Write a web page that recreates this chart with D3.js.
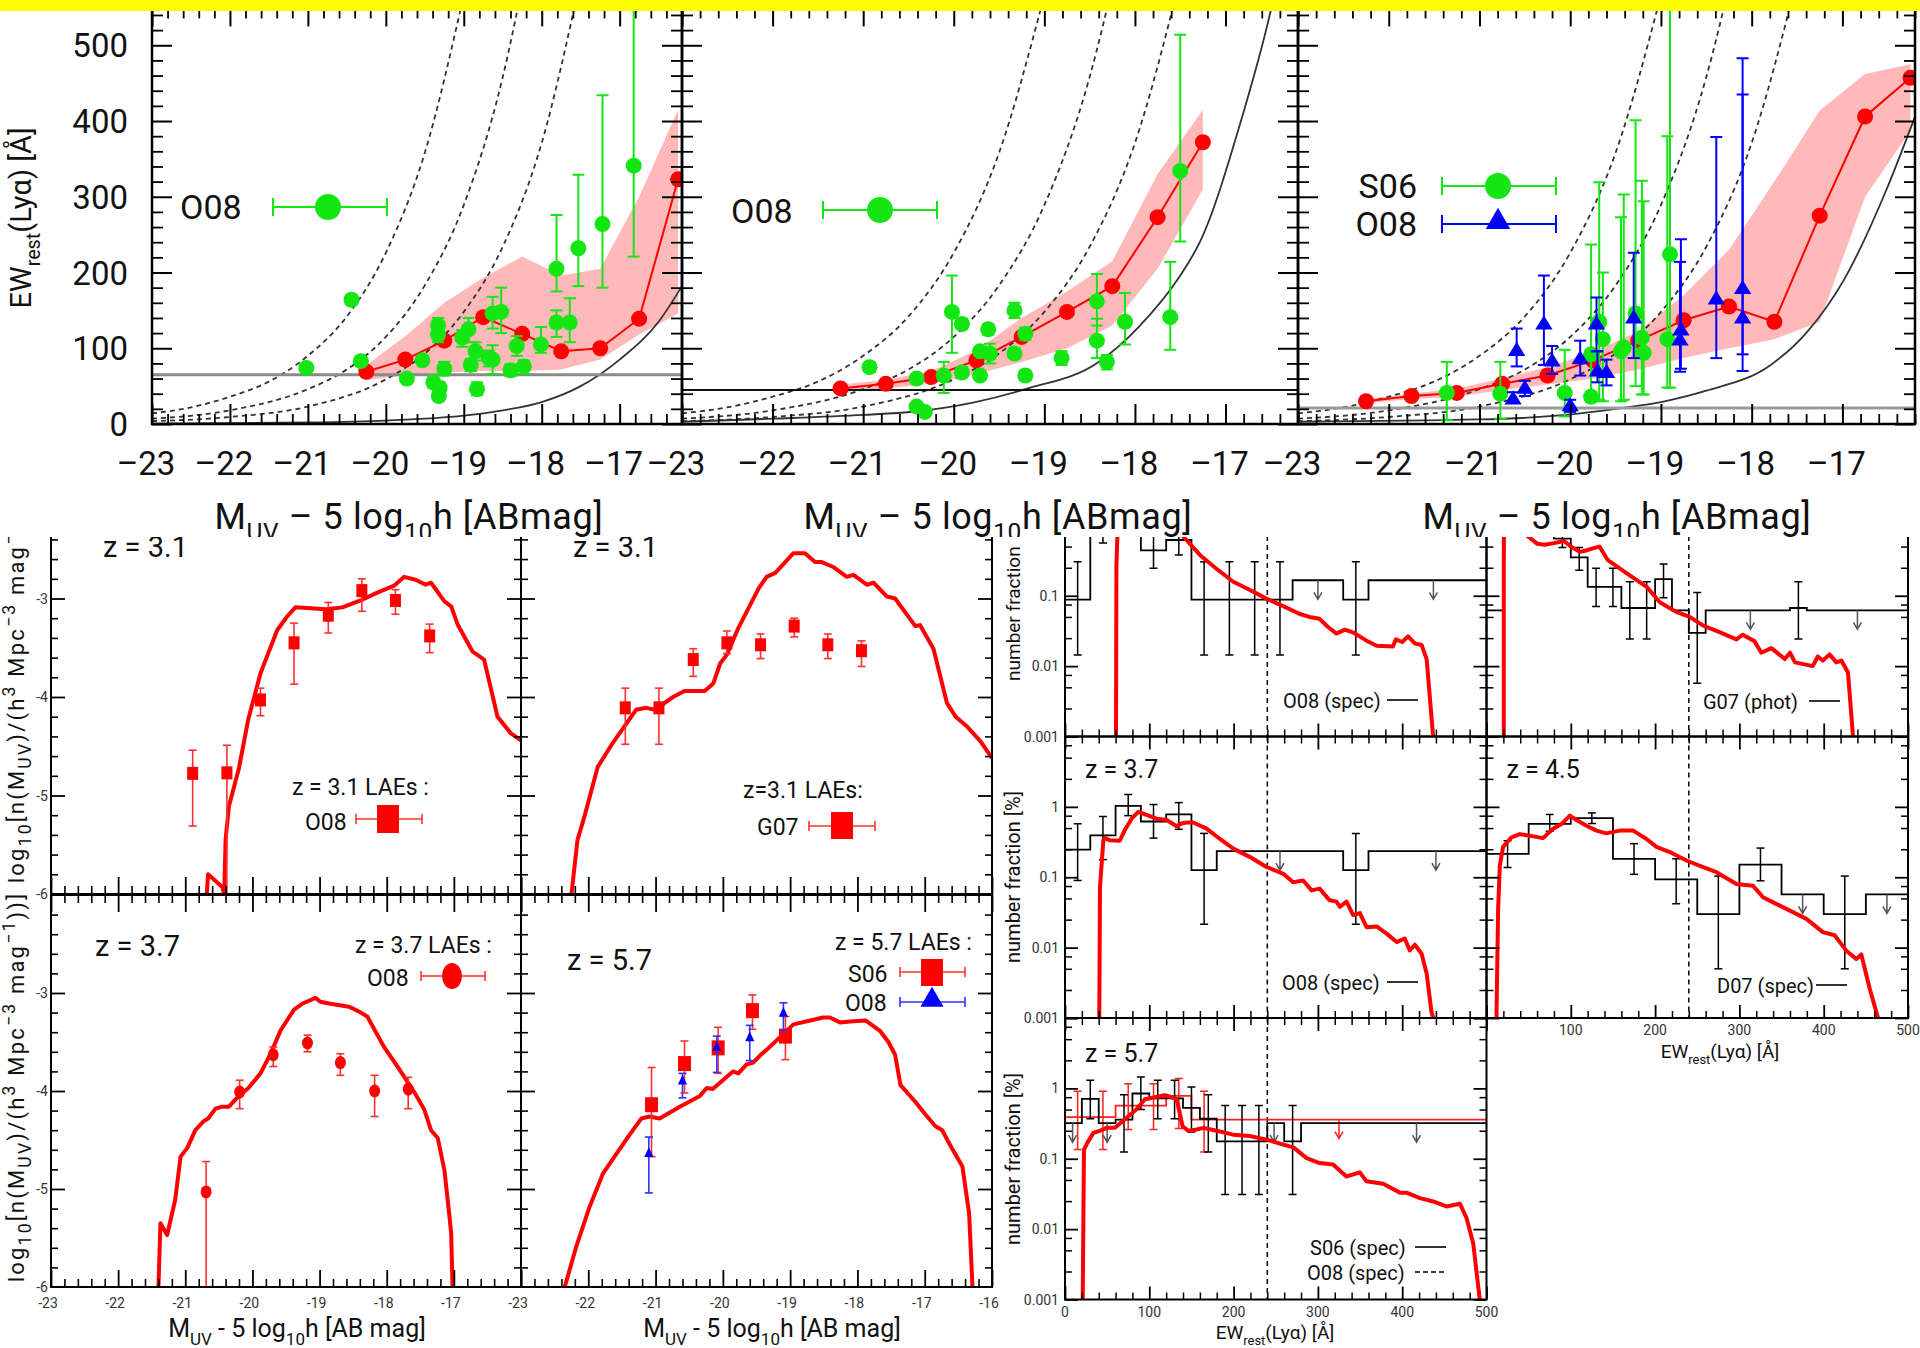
<!DOCTYPE html>
<html>
<head>
<meta charset="utf-8">
<script src="https://cdn.jsdelivr.net/npm/d3@7"></script>
<style>
  body { margin: 0; background: #fff; }
  svg { display: block; }
  text { font-family: Roboto, "Open Sans", sans-serif; fill: #111; }
</style>
</head>
<body>
<svg id="fig" width="1920" height="1348"></svg>
<script>
// ---------------- tick / label values ----------------
const topXLabels = [-23, -22, -21, -20, -19, -18, -17];
const topYLabels = [0, 100, 200, 300, 400, 500];
const lfXLabels = [-23, -22, -21, -20, -19, -18, -17, -16];
const lfYLabels = [-3, -4, -5, -6];
const ewXLabels = [0, 100, 200, 300, 400, 500];
const ewYLabels = [0.001, 0.01, 0.1, 1];

// ---------------- top row: EW_rest vs M_UV ----------------
// dashed selection curves (same in all three panels)
const limA = [[-23, 14], [-22.5, 22], [-22, 36], [-21.5, 56], [-21, 90], [-20.5, 142], [-20, 226], [-19.5, 358], [-19, 566]];
const limB = [[-23, 7], [-22, 18], [-21, 46], [-20.5, 72], [-20, 115], [-19.5, 183], [-19, 289], [-18.5, 458], [-18.2, 604]];
const limC = [[-23, 3.7], [-22, 9.3], [-21, 23], [-20, 59], [-19.5, 93], [-19, 148], [-18.5, 234], [-18, 371], [-17.5, 588]];
const solid1 = [[-23, 0.5], [-21, 2], [-20, 4.5], [-19, 11], [-18.5, 18], [-18, 29], [-17.5, 50], [-17, 85], [-16.5, 135], [-16.2, 182]];
const solid2 = [[-23, 3], [-22, 7], [-21, 12], [-20.43, 16.5], [-19.8, 28], [-19.21, 46], [-18.4, 82], [-17.96, 128], [-17.5, 196], [-17.28, 241], [-16.83, 400], [-16.51, 541], [-16.4, 600]];
const solid3 = [[-23, 3], [-21, 6], [-20.05, 12], [-19.5, 20], [-18.96, 30], [-18.5, 44], [-17.79, 78], [-17.4, 120], [-16.98, 191], [-16.53, 305], [-16.19, 409]];

// model median (red) and spread (pink)
const redM1 = [-20.25, -19.75, -19.25, -18.75, -18.25, -17.75, -17.25, -16.75, -16.25];
const red1 = [69, 85, 110, 141, 119, 96, 100, 139, 323];
const hi1 = [78, 116, 160, 193, 221, 196, 205, 300, 415];
const lo1 = [58, 64, 68, 70, 70, 72, 85, 118, 146];
const redM2 = [-21.25, -20.75, -20.25, -19.75, -19.25, -18.75, -18.25, -17.75, -17.25];
const red2 = [47, 53, 62, 84, 115, 148, 182, 273, 372];
const hi2 = [52, 58, 70, 97, 140, 175, 215, 330, 415];
const lo2 = [42, 47, 53, 66, 82, 100, 130, 205, 310];
const redM3 = [-22.25, -21.75, -21.25, -20.75, -20.25, -19.75, -19.25, -18.75, -18.25, -17.75, -17.25, -16.75, -16.25];
const red3 = [30, 37, 41, 53, 64, 84, 110, 137, 155, 135, 275, 406, 457];
const hi3 = [33, 40, 47, 60, 75, 95, 122, 170, 230, 320, 414, 462, 475];
const lo3 = [27, 33, 36, 45, 52, 60, 72, 87, 100, 112, 135, 300, 387];

// observed LAEs: [M_UV, EW, lo, hi]
const o08z31 = [
  [-21.02, 74, null, null], [-20.44, 164, 158, 170], [-20.32, 83, 78, 88], [-19.73, 60, null, null],
  [-19.53, 84, 80, 90], [-19.33, 130, 118, 140], [-19.33, 118, 108, 128], [-19.39, 55, 48, 62],
  [-19.31, 48, 42, 55], [-19.32, 37, 32, 44], [-19.25, 73, 64, 82], [-19.02, 114, 102, 124],
  [-18.94, 125, 108, 140], [-18.91, 78, 70, 86], [-18.85, 96, 84, 108], [-18.83, 46, 38, 55],
  [-18.68, 87, 76, 97], [-18.63, 146, 126, 168], [-18.52, 148, 120, 180], [-18.63, 85, 66, 104],
  [-18.40, 71, 63, 79], [-18.32, 103, 90, 116], [-18.23, 76, 66, 84], [-18.01, 105, 94, 128],
  [-17.81, 205, 175, 276], [-17.81, 134, 115, 150], [-17.64, 134, 108, 166], [-17.53, 232, 182, 329],
  [-17.22, 264, 180, 434], [-16.82, 341, 221, 600]
];
const o08z37 = [
  [-20.93, 75, 69, 81], [-20.41, 23, null, null], [-20.32, 16, null, null], [-20.41, 60, 54, 66],
  [-20.11, 64, 41, 82], [-20.02, 148, 94, 196], [-19.91, 132, 126, 139], [-19.91, 68, 62, 75],
  [-19.71, 96, null, null], [-19.71, 64, 58, 70], [-19.62, 125, 118, 132], [-19.60, 93, 80, 106],
  [-19.33, 150, 140, 160], [-19.33, 93, 87, 100], [-19.21, 119, 111, 127], [-19.21, 64, 58, 70],
  [-18.81, 87, 78, 96], [-18.42, 162, 130, 198], [-18.42, 110, 87, 139], [-18.31, 82, 72, 91],
  [-18.11, 135, 105, 173], [-17.61, 141, 98, 214], [-17.50, 334, 241, 514]
];
const s06z57 = [
  [-21.36, 41, 5, 82], [-20.77, 40, 7, 82], [-20.06, 41, 10, 98], [-19.77, 36, 30, 42],
  [-19.77, 92, 30, 237], [-19.68, 135, 32, 319], [-19.64, 112, 30, 200], [-19.41, 101, 32, 303],
  [-19.44, 96, 30, 273], [-19.28, 146, 50, 401], [-19.21, 114, 39, 321], [-19.19, 94, 39, 294],
  [-18.90, 224, 48, 600], [-18.93, 112, 48, 380]
];
const o08z57 = [
  [-20.59, 96, 76, 126], [-20.50, 46, 37, 57], [-20.63, 32, 28, 42], [-20.29, 131, 78, 196],
  [-20.20, 82, 66, 103], [-20.00, 23, 16, 32], [-19.89, 85, 64, 110], [-19.71, 131, 96, 167],
  [-19.70, 69, 55, 96], [-19.60, 67, 51, 85], [-19.30, 139, 87, 226], [-18.78, 123, 73, 244],
  [-18.79, 110, 69, 214], [-18.39, 164, 87, 379], [-18.10, 178, 70, 483], [-18.10, 139, 92, 435]
];

// ---------------- UV luminosity functions: [M_UV, log n] ----------------
const lfModel31a = [[-20.68, -6], [-20.66, -5.8], [-20.45, -5.93], [-20.42, -6], [-20.4, -5.45], [-20.35, -5.11], [-20.2, -4.72], [-20.06, -4.22], [-19.88, -3.76], [-19.63, -3.32], [-19.48, -3.18], [-19.36, -3.09], [-19.14, -3.1], [-18.91, -3.11], [-18.66, -3.09], [-18.39, -3.02], [-18.14, -2.94], [-17.89, -2.87], [-17.74, -2.78], [-17.57, -2.81], [-17.42, -2.86], [-17.34, -2.84], [-17.14, -3.03], [-17.04, -3.08], [-16.94, -3.27], [-16.72, -3.54], [-16.55, -3.62], [-16.35, -4.2], [-16.15, -4.37], [-16, -4.44]];
const lfModel31b = [[-22.25, -6], [-22.16, -5.45], [-22.06, -5.22], [-21.86, -4.71], [-21.63, -4.46], [-21.29, -4.13], [-21.14, -4.11], [-21.01, -4.13], [-20.74, -4.0], [-20.57, -3.94], [-20.27, -3.94], [-20.14, -3.86], [-20.04, -3.66], [-19.94, -3.57], [-19.77, -3.3], [-19.47, -2.9], [-19.35, -2.78], [-19.22, -2.74], [-18.95, -2.54], [-18.78, -2.54], [-18.63, -2.63], [-18.53, -2.63], [-18.36, -2.68], [-18.16, -2.78], [-18.06, -2.76], [-17.86, -2.86], [-17.76, -2.84], [-17.56, -2.98], [-17.44, -3.0], [-17.14, -3.28], [-17.07, -3.27], [-16.87, -3.51], [-16.67, -4.06], [-16.54, -4.2], [-16.37, -4.3], [-16.17, -4.45], [-16, -4.62]];
const lfModel37 = [[-21.4, -6], [-21.37, -5.35], [-21.27, -5.47], [-21.15, -5.11], [-21.07, -4.67], [-20.97, -4.58], [-20.85, -4.4], [-20.73, -4.31], [-20.66, -4.28], [-20.55, -4.18], [-20.45, -4.16], [-20.35, -4.16], [-20.23, -4.07], [-20.06, -3.97], [-19.88, -3.82], [-19.73, -3.62], [-19.58, -3.38], [-19.38, -3.17], [-19.26, -3.11], [-19.06, -3.05], [-18.99, -3.09], [-18.84, -3.11], [-18.56, -3.14], [-18.41, -3.19], [-18.29, -3.24], [-18.04, -3.55], [-17.84, -3.75], [-17.59, -4.01], [-17.44, -4.19], [-17.34, -4.4], [-17.24, -4.48], [-17.14, -4.81], [-17.07, -5.25], [-17.04, -5.45], [-17.02, -6]];
const lfModel57 = [[-22.35, -6], [-22.18, -5.59], [-21.98, -5.18], [-21.78, -4.84], [-21.58, -4.64], [-21.39, -4.45], [-21.21, -4.28], [-21.09, -4.26], [-20.94, -4.28], [-20.64, -4.16], [-20.34, -4.05], [-20.24, -3.97], [-20.15, -3.98], [-19.85, -3.8], [-19.77, -3.82], [-19.65, -3.73], [-19.55, -3.71], [-19.42, -3.62], [-19.35, -3.58], [-19.15, -3.45], [-18.95, -3.32], [-18.7, -3.28], [-18.51, -3.25], [-18.41, -3.25], [-18.26, -3.3], [-18.11, -3.29], [-17.88, -3.28], [-17.66, -3.39], [-17.54, -3.5], [-17.44, -3.63], [-17.36, -3.94], [-17.14, -4.11], [-16.99, -4.24], [-16.84, -4.36], [-16.74, -4.4], [-16.64, -4.53], [-16.44, -4.77], [-16.34, -5.25], [-16.29, -6]];
// observed LFs: [M_UV, log n, lo, hi]
const lfO08z31 = [[-20.89, -4.775, -5.31, -4.54], [-20.38, -4.77, -6.3, -4.49], [-19.88, -4.03, -4.19, -3.91], [-19.38, -3.45, -3.87, -3.25], [-18.87, -3.17, -3.35, -3.04], [-18.37, -2.92, -3.13, -2.8], [-17.87, -3.02, -3.16, -2.91], [-17.36, -3.38, -3.55, -3.26]];
const lfG07z31 = [[-21.45, -4.11, -4.48, -3.91], [-20.95, -4.11, -4.48, -3.91], [-20.44, -3.62, -3.79, -3.51], [-19.94, -3.45, -3.56, -3.33], [-19.44, -3.47, -3.61, -3.36], [-18.94, -3.28, -3.39, -3.2], [-18.44, -3.47, -3.61, -3.36], [-17.94, -3.53, -3.69, -3.43]];
const lfO08z37 = [[-20.69, -5.03, -6.3, -4.72], [-20.19, -4.01, -4.18, -3.89], [-19.69, -3.63, -3.75, -3.55], [-19.18, -3.51, -3.6, -3.43], [-18.69, -3.71, -3.84, -3.62], [-18.18, -4.0, -4.26, -3.84], [-17.68, -3.98, -4.18, -3.86]];
const lfS06z57 = [[-21.06, -4.14, -4.67, -3.76], [-20.57, -3.72, -4.02, -3.49], [-20.07, -3.56, -3.82, -3.35], [-19.56, -3.18, -3.37, -3.02], [-19.07, -3.44, -3.68, -3.24]];
const lfO08z57 = [[-21.1, -4.64, -5.04, -4.47], [-20.6, -3.9, -4.07, -3.82], [-20.09, -3.56, -3.81, -3.44], [-19.6, -3.46, -3.69, -3.33], [-19.1, -3.21, -3.38, -3.1]];

// ---------------- EW distributions: number fraction [%] ----------------
const ewModel31a = [[60.5, 0.001], [61, 0.27], [63, 1.5], [70, 3], [90, 3.5], [110, 2.5], [130, 1.0], [140, 0.7], [160, 0.38], [180, 0.24], [199.6, 0.158], [220, 0.12], [239, 0.091], [260, 0.07], [278.6, 0.055], [290, 0.05], [302, 0.047], [312, 0.036], [322, 0.029], [332, 0.033], [342, 0.03], [357.7, 0.023], [369.7, 0.0195], [389, 0.019], [392.5, 0.024], [400, 0.022], [407, 0.0265], [415, 0.021], [423, 0.02], [429, 0.0126], [436.7, 0.001]];
const ewModel31b = [[20.5, 0.001], [20.5, 0.3], [21, 3], [35, 3], [45, 1.0], [49, 0.7], [60, 0.55], [69, 0.53], [80, 0.56], [92, 0.6], [100, 0.5], [110.7, 0.42], [118, 0.44], [126, 0.47], [134, 0.5], [144, 0.32], [166, 0.21], [190, 0.134], [205.5, 0.081], [225, 0.059], [241, 0.05], [257, 0.0376], [275, 0.031], [296.5, 0.024], [304, 0.028], [318, 0.0225], [326, 0.0155], [338, 0.018], [353.8, 0.0126], [360, 0.0155], [366, 0.0113], [387, 0.01], [393, 0.0137], [399, 0.012], [407, 0.0147], [415, 0.0113], [421, 0.012], [428.8, 0.0081], [434.8, 0.001]];
const ewModel37 = [[40.7, 0.001], [41.5, 0.072], [45.5, 0.335], [47.4, 0.36], [53.4, 0.335], [65, 0.33], [71, 0.47], [79, 0.68], [86.9, 0.85], [96.7, 0.77], [108.7, 0.68], [120.6, 0.65], [132.4, 0.53], [138, 0.58], [144, 0.6], [152, 0.6], [168, 0.49], [183.8, 0.35], [199.6, 0.255], [219, 0.195], [239, 0.14], [259, 0.112], [270.6, 0.085], [282.5, 0.09], [292.5, 0.065], [302, 0.069], [314, 0.047], [322, 0.045], [326, 0.038], [334, 0.045], [341.8, 0.029], [349.8, 0.031], [357.7, 0.0195], [369.7, 0.02], [381.5, 0.0158], [393.4, 0.012], [403, 0.0135], [409, 0.0091], [415, 0.011], [423, 0.0082], [429, 0.0043], [434.8, 0.0012], [437, 0.001]];
const ewModel45 = [[11.8, 0.001], [13.8, 0.036], [15.8, 0.147], [19.7, 0.27], [29.6, 0.37], [39.5, 0.41], [51, 0.39], [67, 0.36], [79, 0.49], [89, 0.57], [98.8, 0.75], [106.7, 0.65], [118.6, 0.54], [130.4, 0.46], [142, 0.42], [158, 0.46], [174, 0.46], [189.8, 0.35], [201.6, 0.27], [217.4, 0.228], [237.2, 0.173], [257, 0.139], [272.8, 0.118], [296.5, 0.08], [316, 0.076], [328, 0.052], [340, 0.044], [359.8, 0.0336], [379.5, 0.0256], [399, 0.0166], [413, 0.015], [427, 0.009], [438.6, 0.0069], [444.6, 0.008], [454.6, 0.0026], [464.5, 0.001]];
const ewModel57 = [[21, 0.001], [22.5, 0.135], [26.5, 0.168], [33.6, 0.233], [41.5, 0.25], [49.5, 0.275], [59.3, 0.275], [72.8, 0.38], [84.6, 0.5], [94.8, 0.7], [106.7, 0.75], [118.6, 0.8], [126.5, 0.75], [132.4, 0.7], [139.5, 0.29], [146, 0.25], [156, 0.26], [164, 0.275], [180, 0.25], [199.6, 0.22], [219, 0.21], [239, 0.187], [259, 0.159], [271, 0.145], [286.6, 0.102], [302, 0.087], [318, 0.083], [333.8, 0.056], [349.7, 0.064], [357.6, 0.048], [377.4, 0.044], [397.2, 0.033], [405, 0.033], [421, 0.0276], [436.7, 0.0247], [452.6, 0.021], [468.4, 0.023], [476.3, 0.0144], [484.2, 0.0063], [492, 0.001]];

const histO08z31Edges = [0, 30, 60, 90, 120, 150, 180, 210, 240, 270, 300, 330, 360, 500];
const histO08z31 = [0.088, 1.6, 1.2, 0.44, 0.62, 0.088, 0.088, 0.088, 0.088, 0.166, 0.166, 0.088, 0.166];
const errO08z31 = [[15, 0.0144, 0.305], [45, 0.56, 2.5], [105, 0.245, 0.9], [135, 0.38, 1.0], [165, 0.0144, 0.305], [195, 0.0144, 0.305], [225, 0.0144, 0.305], [255, 0.0144, 0.305], [345, 0.0144, 0.305]];
const limO08z31 = [[300, 0.166], [437, 0.166]];

const histG07Edges = [0, 20, 40, 60, 80, 100, 120, 140, 160, 180, 200, 220, 240, 260, 360, 380, 500];
const histG07 = [0.062, 0.8, 1.0, 0.9, 0.65, 0.35, 0.134, 0.134, 0.067, 0.067, 0.172, 0.062, 0.0297, 0.062, 0.067, 0.062];
const errG07 = [[90, 0.485, 1.2], [110, 0.231, 0.485], [130, 0.0705, 0.245], [150, 0.0705, 0.245], [170, 0.0243, 0.158], [190, 0.0243, 0.158], [210, 0.094, 0.282], [250, 0.0057, 0.111], [370, 0.0243, 0.158]];
const limG07 = [[313, 0.062], [440, 0.062]];

const histO08z37Edges = [0, 30, 60, 90, 120, 150, 180, 330, 360, 500];
const histO08z37 = [0.247, 0.394, 1.03, 0.62, 0.78, 0.126, 0.235, 0.126, 0.235];
const errO08z37 = [[15, 0.09, 0.575], [45, 0.178, 0.73], [75, 0.75, 1.5], [105, 0.36, 1.08], [135, 0.48, 1.15], [165, 0.0215, 0.42], [345, 0.0215, 0.42]];
const limO08z37 = [[255, 0.235], [440, 0.235]];

const histD07Edges = [0, 50, 100, 150, 200, 250, 300, 350, 400, 450, 500];
const histD07 = [0.215, 0.575, 0.69, 0.183, 0.093, 0.030, 0.151, 0.057, 0.030, 0.057];
const errD07 = [[25, 0.138, 0.33], [75, 0.45, 0.78], [125, 0.58, 0.82], [175, 0.11, 0.3], [225, 0.042, 0.183], [275, 0.005, 0.104], [325, 0.089, 0.26], [425, 0.005, 0.104]];
const limD07 = [[375, 0.057], [475, 0.057]];

const histS06Edges = [0, 20, 40, 60, 80, 100, 120, 140, 160, 180, 240, 260, 280, 500];
const histS06 = [0.32, 0.71, 0.32, 0.36, 0.845, 0.72, 0.72, 0.53, 0.37, 0.177, 0.32, 0.177, 0.32];
const errS06 = [[30, 0.37, 1.3], [70, 0.125, 0.81], [90, 0.5, 1.45], [110, 0.37, 1.3], [130, 0.37, 1.3], [150, 0.24, 1.05], [170, 0.125, 0.81], [190, 0.031, 0.57], [210, 0.031, 0.57], [230, 0.031, 0.57], [270, 0.031, 0.57]];
const limS06 = [[9, 0.32], [50, 0.32], [248, 0.32], [417, 0.32]];
const histO08z57Edges = [0, 60, 120, 150, 500];
const histO08z57 = [0.39, 0.57, 0.78, 0.36];
const errO08z57 = [[15, 0.135, 0.91], [45, 0.135, 0.91], [75, 0.26, 1.16], [105, 0.26, 1.16], [135, 0.27, 1.38], [165, 0.125, 0.91]];
const limO08z57 = [[325, 0.36]];

// ---------------- colours ----------------
const GREEN = "#14e614", RED = "#ff0000", BLUE = "#0000ff", PINK = "#ffb9b9";

// ---------------- helpers ----------------
const svg = d3.select("#fig");
const defs = svg.append("defs");
let clipN = 0;
function clip(x, y, w, h) {
  const id = "c" + (clipN++);
  defs.append("clipPath").attr("id", id).append("rect")
    .attr("x", x).attr("y", y).attr("width", w).attr("height", h);
  return `url(#${id})`;
}
const lower = svg.append("g").attr("clip-path", clip(0, 537, 1920, 811));
const upper = svg.append("g").attr("clip-path", clip(0, 0, 1920, 537));

function ticks(g, scale, side, pos, vals, len, w) {
  const gen = { bottom: d3.axisBottom, top: d3.axisTop, left: d3.axisLeft, right: d3.axisRight }[side];
  const horiz = side === "bottom" || side === "top";
  const a = g.append("g")
    .attr("transform", horiz ? `translate(0,${pos})` : `translate(${pos},0)`)
    .call(gen(scale).tickValues(vals).tickSize(-len).tickFormat(""));
  a.select(".domain").remove();
  a.selectAll("text").remove();
  a.selectAll("line").attr("stroke", "#000").attr("stroke-width", w);
}

function frame(g, x0, y0, x1, y1, w) {
  g.append("rect").attr("x", x0).attr("y", y0).attr("width", x1 - x0).attr("height", y1 - y0)
    .attr("fill", "none").attr("stroke", "#000").attr("stroke-width", w);
}

// text with sub/superscripts: parts = [[string, "n" | "sub" | "sup"], ...]
function rich(g, x, y, size, parts, anchor, rot, spacing, small) {
  const t = g.append("text").attr("font-size", size).attr("text-anchor", anchor || "start");
  if (spacing) t.attr("letter-spacing", spacing);
  if (rot) t.attr("transform", `translate(${x},${y}) rotate(${rot})`);
  else t.attr("x", x).attr("y", y);
  let shift = 0;
  parts.forEach(([s, k]) => {
    const target = k === "sub" ? size * 0.3 : k === "sup" ? -size * 0.42 : 0;
    t.append("tspan").attr("dy", target - shift).attr("font-size", k === "n" ? size : size * (small || 0.68)).text(s);
    shift = target;
  });
  return t;
}

function vErr(g, pts, x, y, color, cap, w) {
  const eg = g.append("g").attr("stroke", color).attr("stroke-width", w);
  const d = pts.filter(p => p[2] != null);
  eg.selectAll(".v").data(d).join("line")
    .attr("x1", p => x(p[0])).attr("x2", p => x(p[0])).attr("y1", p => y(p[2])).attr("y2", p => y(p[3]));
  eg.selectAll(".lo").data(d).join("line").attr("class", "lo")
    .attr("x1", p => x(p[0]) - cap).attr("x2", p => x(p[0]) + cap).attr("y1", p => y(p[2])).attr("y2", p => y(p[2]));
  eg.selectAll(".hi").data(d).join("line").attr("class", "hi")
    .attr("x1", p => x(p[0]) - cap).attr("x2", p => x(p[0]) + cap).attr("y1", p => y(p[3])).attr("y2", p => y(p[3]));
}

function marks(g, pts, x, y, shape, color, w, h) {
  if (shape === "circle") {
    g.selectAll(null).data(pts).join("ellipse")
      .attr("cx", p => x(p[0])).attr("cy", p => y(p[1])).attr("rx", w / 2).attr("ry", h / 2).attr("fill", color);
  } else if (shape === "square") {
    g.selectAll(null).data(pts).join("rect")
      .attr("x", p => x(p[0]) - w / 2).attr("y", p => y(p[1]) - h / 2).attr("width", w).attr("height", h).attr("fill", color);
  } else {
    g.selectAll(null).data(pts).join("path")
      .attr("d", d3.symbol(d3.symbolTriangle, w * w * 0.45))
      .attr("transform", p => `translate(${x(p[0])},${y(p[1])}) scale(1,${h / w})`).attr("fill", color);
  }
}

function legendBar(g, xa, xb, yy, color, cap, w) {
  g.append("line").attr("x1", xa).attr("x2", xb).attr("y1", yy).attr("y2", yy).attr("stroke", color).attr("stroke-width", w);
  [xa, xb].forEach(xx => g.append("line").attr("x1", xx).attr("x2", xx).attr("y1", yy - cap).attr("y2", yy + cap)
    .attr("stroke", color).attr("stroke-width", w));
}

// ---------------- top row ----------------
const topY = d3.scaleLinear([0, 550], [424, 7.4]);
const topXMinor = d3.range(0, 35).map(i => -23 + i * 0.2).filter(v => Math.abs(v - Math.round(v)) > 0.01);
const topYMinor = d3.range(20, 541, 20).filter(v => v % 100);

function drawTop(x0, x1, p) {
  const x = d3.scaleLinear([-23, -16.2], [x0, x1]);
  const y = topY;
  const g = upper.append("g");
  const inner = g.append("g").attr("clip-path", clip(x0, 7.4, x1 - x0, 416.6));
  const band = p.redM.map((m, i) => [m, p.lo[i], p.hi[i]]);
  inner.append("path")
    .attr("d", d3.area().x(d => x(d[0])).y0(d => y(d[1])).y1(d => y(d[2]))(band))
    .attr("fill", PINK);
  const smooth = d3.line().x(d => x(d[0])).y(d => y(d[1])).curve(d3.curveMonotoneX);
  [limA, limB, limC].forEach(c => inner.append("path").attr("d", smooth(c))
    .attr("fill", "none").attr("stroke", "#333").attr("stroke-width", 1.8).attr("stroke-dasharray", "5,4"));
  inner.append("path").attr("d", smooth(p.solid))
    .attr("fill", "none").attr("stroke", "#333").attr("stroke-width", 1.8);
  inner.append("line").attr("x1", x0).attr("x2", x1).attr("y1", y(p.hline)).attr("y2", y(p.hline))
    .attr("stroke", p.hcol).attr("stroke-width", p.hw);
  const redPts = p.redM.map((m, i) => [m, p.red[i]]);
  inner.append("path").attr("d", d3.line().x(d => x(d[0])).y(d => y(d[1]))(redPts))
    .attr("fill", "none").attr("stroke", RED).attr("stroke-width", 2);
  marks(inner, redPts, x, y, "circle", RED, 16, 16);
  p.sets.forEach(s => {
    vErr(inner, s.pts, x, y, s.color, 6, 2);
    marks(inner, s.pts, x, y, s.shape, s.color, s.shape === "circle" ? 16 : 17, 16);
  });
  frame(g, x0, 7.4, x1, 424, 2.5);
  ticks(g, x, "bottom", 424, topXLabels, 20, 2);
  ticks(g, x, "bottom", 424, topXMinor, 10, 1.8);
  ticks(g, x, "top", 7.4, topXLabels, 19, 2);
  ticks(g, x, "top", 7.4, topXMinor, 11, 1.8);
  ticks(g, y, "left", x0, topYLabels, 20, 2);
  ticks(g, y, "left", x0, topYMinor, 11, 1.8);
  ticks(g, y, "right", x1, topYLabels, 20, 2);
  ticks(g, y, "right", x1, topYMinor, 11, 1.8);
  g.selectAll(null).data(topXLabels).join("text")
    .attr("x", d => x(d) - 6).attr("y", 475).attr("font-size", 33).attr("text-anchor", "middle")
    .text(d => "\u2013" + Math.abs(d));
  return x;
}

drawTop(152, 682, {
  redM: redM1, red: red1, lo: lo1, hi: hi1, solid: solid1, hline: 65, hcol: "#8a8a8a", hw: 3,
  sets: [{ pts: o08z31, color: GREEN, shape: "circle" }]
});
drawTop(682, 1298, {
  redM: redM2, red: red2, lo: lo2, hi: hi2, solid: solid2, hline: 45, hcol: "#111", hw: 2,
  sets: [{ pts: o08z37, color: GREEN, shape: "circle" }]
});
drawTop(1298, 1915, {
  redM: redM3, red: red3, lo: lo3, hi: hi3, solid: solid3, hline: 21, hcol: "#9a9a9a", hw: 3,
  sets: [{ pts: s06z57, color: GREEN, shape: "circle" }, { pts: o08z57, color: BLUE, shape: "triangle" }]
});

// top y labels and titles
upper.selectAll(null).data(topYLabels).join("text")
  .attr("x", 128).attr("y", d => topY(d) + 12).attr("font-size", 33).attr("text-anchor", "end").text(d => d);
rich(upper, 31, 218, 29, [["EW", "n"], ["rest", "sub"], ["(Ly\u03b1) [\u00c5]", "n"]], "middle", -90);
[409, 998, 1617].forEach(cx => rich(upper, cx, 529, 36,
  [["M", "n"], ["UV", "sub"], [" \u2013 5 log", "n"], ["10", "sub"], ["h [ABmag]", "n"]], "middle", 0, 0.6));

// top legends
upper.append("text").attr("x", 180).attr("y", 219).attr("font-size", 34).text("O08");
legendBar(upper, 273, 387, 207, GREEN, 9, 2);
upper.append("circle").attr("cx", 328).attr("cy", 207).attr("r", 13).attr("fill", GREEN);
upper.append("text").attr("x", 731).attr("y", 223).attr("font-size", 34).text("O08");
legendBar(upper, 823, 937, 210, GREEN, 9, 2);
upper.append("circle").attr("cx", 880).attr("cy", 210).attr("r", 13).attr("fill", GREEN);
upper.append("text").attr("x", 1417).attr("y", 198).attr("font-size", 34).attr("text-anchor", "end").text("S06");
legendBar(upper, 1442, 1556, 186, GREEN, 9, 2);
upper.append("circle").attr("cx", 1498).attr("cy", 186).attr("r", 13).attr("fill", GREEN);
upper.append("text").attr("x", 1417).attr("y", 236).attr("font-size", 34).attr("text-anchor", "end").text("O08");
legendBar(upper, 1442, 1556, 224, BLUE, 9, 2);
upper.append("path").attr("d", d3.symbol(d3.symbolTriangle, 260)).attr("transform", "translate(1498,222)").attr("fill", BLUE);

upper.append("rect").attr("x", 0).attr("y", 0).attr("width", 1920).attr("height", 11).attr("fill", "#ffff00");

// ---------------- UV luminosity function panels ----------------
const lfXMinor = d3.range(0, 36).map(i => -23 + i * 0.2).filter(v => Math.abs(v - Math.round(v)) > 0.01);
const lfYMinor = d3.range(0, 21).map(i => -6 + i * 0.2).filter(v => Math.abs(v - Math.round(v)) > 0.01);

function drawLF(x0, x1, yb, yt, p) {
  const x = d3.scaleLinear([-23, -16], [x0, x1]);
  const y = d3.scaleLinear([-6, -2], [yb, yt]);
  const g = lower.append("g");
  const inner = g.append("g").attr("clip-path", clip(x0, yt, x1 - x0, yb - yt));
  inner.append("path").attr("d", d3.line().x(d => x(d[0])).y(d => y(d[1]))(p.model))
    .attr("fill", "none").attr("stroke", RED).attr("stroke-width", 4).attr("stroke-linejoin", "round");
  p.sets.forEach(s => {
    vErr(inner, s.pts, x, y, s.err, 4, 1.6);
    marks(inner, s.pts, x, y, s.shape, s.color, s.w, s.h);
  });
  frame(g, x0, yt, x1, yb, 2);
  ticks(g, x, "bottom", yb, lfXLabels, 17, 1.8);
  ticks(g, x, "bottom", yb, lfXMinor, 8, 1.6);
  ticks(g, x, "top", yt, lfXLabels, 17, 1.8);
  ticks(g, x, "top", yt, lfXMinor, 8, 1.6);
  ticks(g, y, "left", x0, [-5, -4, -3], 14, 1.8);
  ticks(g, y, "left", x0, lfYMinor, 7, 1.6);
  ticks(g, y, "right", x1, [-5, -4, -3], 14, 1.8);
  ticks(g, y, "right", x1, lfYMinor, 7, 1.6);
  g.append("text").attr("x", p.lx).attr("y", p.ly).attr("font-size", 29).text(p.label);
  return { x, y, g };
}

const lf1 = drawLF(51, 521, 894, 500, {
  model: lfModel31a, label: "z = 3.1", lx: 103, ly: 557,
  sets: [{ pts: lfO08z31, color: RED, err: "#ff3030", shape: "square", w: 11, h: 13 }]
});
const lf2 = drawLF(521, 992, 894, 500, {
  model: lfModel31b, label: "z = 3.1", lx: 573, ly: 557,
  sets: [{ pts: lfG07z31, color: RED, err: "#ff3030", shape: "square", w: 11, h: 13 }]
});
const lf3 = drawLF(51, 521, 1287, 895, {
  model: lfModel37, label: "z = 3.7", lx: 95, ly: 956,
  sets: [{ pts: lfO08z37, color: RED, err: "#ff3030", shape: "circle", w: 11, h: 13 }]
});
const lf4 = drawLF(521, 992, 1287, 895, {
  model: lfModel57, label: "z = 5.7", lx: 567, ly: 970,
  sets: [{ pts: lfS06z57, color: RED, err: "#ff3030", shape: "square", w: 13, h: 15 },
         { pts: lfO08z57, color: BLUE, err: "#3030ff", shape: "triangle", w: 9, h: 11 }]
});

// LF axis labels
[lf1, lf3].forEach(p => lower.selectAll(null).data(lfYLabels).join("text")
  .attr("x", 48).attr("y", d => p.y(d) + 5).attr("font-size", 14).attr("text-anchor", "end")
  .style("fill", "#333").text(d => "-" + Math.abs(d)));
[[lf3, lfXLabels.slice(0, 7)], [lf4, lfXLabels]].forEach(([p, labs]) => lower.selectAll(null).data(labs).join("text")
  .attr("x", d => p.x(d) - 3).attr("y", 1308).attr("font-size", 14).attr("text-anchor", "middle")
  .style("fill", "#333").text(d => "-" + Math.abs(d)));
[297, 772].forEach(cx => rich(lower, cx, 1337, 25,
  [["M", "n"], ["UV", "sub"], [" - 5 log", "n"], ["10", "sub"], ["h [AB mag]", "n"]], "middle"));
[688, 1087].forEach(cy => rich(lower, 24, cy, 22,
  [["log", "n"], ["10", "sub"], ["[n(M", "n"], ["UV", "sub"], [")/(h", "n"], ["3", "sup"], [" Mpc", "n"],
   ["\u22123", "sup"], [" mag", "n"], ["\u22121", "sup"], ["))]", "n"]], "middle", -90, 2.2, 0.8));

// LF legends
function lfLegendText(x, y, s) { lower.append("text").attr("x", x).attr("y", y).attr("font-size", 23).text(s); }
lfLegendText(292, 795, "z = 3.1 LAEs :");
lfLegendText(305, 830, "O08");
legendBar(lower, 356, 422, 819, "#ff3030", 5, 1.6);
lower.append("rect").attr("x", 377).attr("y", 805).attr("width", 22).attr("height", 28).attr("fill", RED);
lfLegendText(743, 798, "z=3.1 LAEs:");
lfLegendText(757, 835, "G07");
legendBar(lower, 809, 875, 826, "#ff3030", 5, 1.6);
lower.append("rect").attr("x", 831).attr("y", 812).attr("width", 22).attr("height", 27).attr("fill", RED);
lfLegendText(355, 953, "z = 3.7 LAEs :");
lfLegendText(367, 986, "O08");
legendBar(lower, 421, 485, 976, "#ff3030", 5, 1.6);
lower.append("ellipse").attr("cx", 452).attr("cy", 976).attr("rx", 10).attr("ry", 13).attr("fill", RED);
lfLegendText(835, 950, "z = 5.7 LAEs :");
lfLegendText(848, 982, "S06");
legendBar(lower, 900, 965, 972, "#ff3030", 5, 1.6);
lower.append("rect").attr("x", 921).attr("y", 959).attr("width", 22).attr("height", 27).attr("fill", RED);
lfLegendText(845, 1011, "O08");
legendBar(lower, 900, 965, 1002, "#3030ff", 5, 1.6);
lower.append("path").attr("d", d3.symbol(d3.symbolTriangle, 230)).attr("transform", "translate(932,1000)").attr("fill", BLUE);

// ---------------- EW distribution panels ----------------
const ewXMinor = d3.range(0, 501, 20).filter(v => v % 100);
const ewYMinor = [-3, -2, -1, 0].flatMap(d => [2.5, 5, 7.5].map(m => m * Math.pow(10, d)));
const ewYMajor = [0.001, 0.01, 0.1, 1, 10];

function drawEW(x0, yb, p) {
  const x1 = x0 + 421.5, yt = yb - 281.5;
  const x = d3.scaleLinear([0, 500], [x0, x1]);
  const y = d3.scaleLog([0.001, 10], [yb, yt]);
  const g = lower.append("g");
  const inner = g.append("g").attr("clip-path", clip(x0, yt, x1 - x0, yb - yt));
  inner.append("line").attr("x1", x(240)).attr("x2", x(240)).attr("y1", yt).attr("y2", yb)
    .attr("stroke", "#000").attr("stroke-width", 1.5).attr("stroke-dasharray", "5,4");
  p.hists.forEach(h => {
    const pts = h.edges.map((e, i) => [e, h.vals[Math.min(i, h.vals.length - 1)]]);
    inner.append("path").attr("d", d3.line().x(d => x(d[0])).y(d => y(d[1])).curve(d3.curveStepAfter)(pts))
      .attr("fill", "none").attr("stroke", h.color).attr("stroke-width", 1.8);
    vErr(inner, h.errs.map(e => [e[0], 0, e[1], e[2]]), x, y, h.color, 4, 1.5);
    inner.selectAll(null).data(h.lims).join("path")
      .attr("d", d => {
        const xx = x(d[0]), yy = y(d[1]);
        return `M${xx},${yy}V${yy + 19}M${xx - 4},${yy + 12}L${xx},${yy + 19}L${xx + 4},${yy + 12}`;
      })
      .attr("fill", "none").attr("stroke", h.limColor).attr("stroke-width", 1.5);
  });
  inner.append("path").attr("d", d3.line().x(d => x(d[0])).y(d => y(d[1]))(p.model))
    .attr("fill", "none").attr("stroke", RED).attr("stroke-width", 4).attr("stroke-linejoin", "round");
  frame(g, x0, yt, x1, yb, 2);
  ticks(g, x, "bottom", yb, ewXLabels, 13, 1.8);
  ticks(g, x, "bottom", yb, ewXMinor, 7, 1.5);
  ticks(g, x, "top", yt, ewXLabels, 13, 1.8);
  ticks(g, x, "top", yt, ewXMinor, 7, 1.5);
  ticks(g, y, "left", x0, ewYMajor, 13, 1.8);
  ticks(g, y, "left", x0, ewYMinor, 7, 1.5);
  ticks(g, y, "right", x1, ewYMajor, 13, 1.8);
  ticks(g, y, "right", x1, ewYMinor, 7, 1.5);
  if (p.label) g.append("text").attr("x", x0 + 20).attr("y", p.ly).attr("font-size", 25).text(p.label);
  if (p.yLabels) g.selectAll(null).data(p.yLabels).join("text")
    .attr("x", x0 - 6).attr("y", d => y(d) + 5).attr("font-size", 14).attr("text-anchor", "end")
    .style("fill", "#333").text(d => String(d));
  if (p.xLabels) g.selectAll(null).data(p.xLabels).join("text")
    .attr("x", d => x(d)).attr("y", yb + 17).attr("font-size", 14).attr("text-anchor", "middle")
    .style("fill", "#333").text(d => d);
  p.legend.forEach(l => {
    g.append("text").attr("x", l.tx).attr("y", l.ty).attr("font-size", 20).text(l.text);
    g.append("line").attr("x1", l.lx).attr("x2", l.lx + 31).attr("y1", l.ty - 8).attr("y2", l.ty - 8)
      .attr("stroke", "#000").attr("stroke-width", 1.6).attr("stroke-dasharray", l.dash || null);
  });
}

const blackHist = (edges, vals, errs, lims) => ({ edges, vals, errs, lims, color: "#000", limColor: "#555" });
drawEW(1065, 736.5, {
  // the "1" label of this panel sits under the top strip, so only the lower three show
  model: ewModel31a, yLabels: ewYLabels.slice(0, 3),
  hists: [blackHist(histO08z31Edges, histO08z31, errO08z31, limO08z31)],
  legend: [{ text: "O08 (spec)", tx: 1283, ty: 708, lx: 1387 }]
});
drawEW(1486.5, 736.5, {
  model: ewModel31b,
  hists: [blackHist(histG07Edges, histG07, errG07, limG07)],
  legend: [{ text: "G07 (phot)", tx: 1703, ty: 709, lx: 1809 }]
});
drawEW(1065, 1018, {
  model: ewModel37, yLabels: ewYLabels, label: "z = 3.7", ly: 778,
  hists: [blackHist(histO08z37Edges, histO08z37, errO08z37, limO08z37)],
  legend: [{ text: "O08 (spec)", tx: 1282, ty: 990, lx: 1387 }]
});
drawEW(1486.5, 1018, {
  model: ewModel45, label: "z = 4.5", ly: 778, xLabels: ewXLabels.slice(1),
  hists: [blackHist(histD07Edges, histD07, errD07, limD07)],
  legend: [{ text: "D07 (spec)", tx: 1717, ty: 993, lx: 1816 }]
});
drawEW(1065, 1299.5, {
  model: ewModel57, yLabels: ewYLabels, label: "z = 5.7", ly: 1062, xLabels: ewXLabels,
  hists: [
    { edges: histO08z57Edges, vals: histO08z57, errs: errO08z57, lims: limO08z57, color: "#ff2020", limColor: "#ff2020" },
    blackHist(histS06Edges, histS06, errS06, limS06)
  ],
  legend: [{ text: "S06 (spec)", tx: 1310, ty: 1255, lx: 1415 }, { text: "O08 (spec)", tx: 1307, ty: 1280, lx: 1415, dash: "5,3" }]
});

// EW titles
[[1275, 1339], [1720, 1058]].forEach(([cx, cy]) => rich(lower, cx, cy, 19,
  [["EW", "n"], ["rest", "sub"], ["(Ly\u03b1) [\u00c5]", "n"]], "middle"));
// the upper title is cut by the top strip in the reference: only "number fraction" shows
lower.append("text").attr("transform", "translate(1020,681) rotate(-90)").attr("font-size", 19)
  .attr("text-anchor", "start").text("number fraction");
[877, 1159].forEach(cy => lower.append("text")
  .attr("transform", `translate(1020,${cy}) rotate(-90)`).attr("font-size", 20).attr("text-anchor", "middle")
  .text("number fraction [%]"));
</script>
</body>
</html>
